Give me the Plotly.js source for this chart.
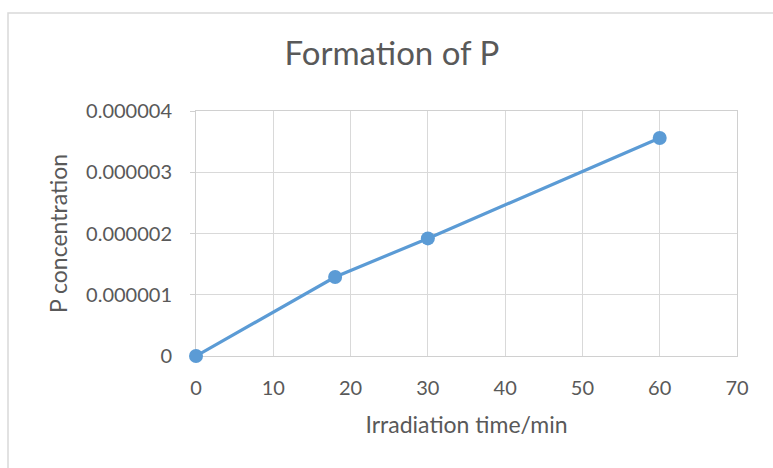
<!DOCTYPE html>
<html><head><meta charset="utf-8">
<script src="https://cdn.plot.ly/plotly-3.0.1.min.js"></script>
<style>html,body{margin:0;padding:0;background:#fff;}#chart{width:773px;height:468px;}</style>
</head><body><div id="chart"></div>
<script>
const timeMin = [0, 18, 30, 60];
const pConc = [0, 1.29e-6, 1.92e-6, 3.56e-6];
const xTicks = [0, 10, 20, 30, 40, 50, 60, 70];
const yTickVals = [0, 1e-6, 2e-6, 3e-6, 4e-6];
const yTickText = ['0', '0.000001', '0.000002', '0.000003', '0.000004'];

const txt = '#595959';
const fontFam = 'Lato, "Open Sans", sans-serif';
Plotly.newPlot('chart', [{
  x: timeMin, y: pConc, type: 'scatter', mode: 'lines+markers',
  line: {color: '#5B9BD5', width: 3.2},
  marker: {color: '#5B9BD5', size: 14},
  cliponaxis: false, showlegend: false
}], {
  width: 773, height: 468,
  margin: {l: 196, r: 36, t: 111, b: 112},
  paper_bgcolor: '#fff', plot_bgcolor: '#fff',
  font: {family: fontFam, color: txt},
  title: {text: 'Formation of P', font: {size: 33, color: txt, family: fontFam}, x: 0.507, xanchor: 'center', y: 0.885, yanchor: 'middle'},
  xaxis: {
    range: [0, 70], tickvals: xTicks, ticktext: xTicks.map(String),
    showgrid: true, gridcolor: '#D9D9D9', gridwidth: 1,
    zeroline: false, showline: true, linecolor: '#D0D0D0', linewidth: 1, mirror: true,
    ticks: '', ticklabelstandoff: 14, layer: 'below traces',
    tickfont: {size: 20, color: txt},
    title: {text: 'Irradiation time/min', font: {size: 23, color: txt}, standoff: 18}
  },
  yaxis: {
    range: [0, 4e-6], tickvals: yTickVals, ticktext: yTickText,
    showgrid: true, gridcolor: '#D9D9D9', gridwidth: 1,
    zeroline: false, showline: true, linecolor: '#D0D0D0', linewidth: 1, mirror: true,
    ticks: 'outside', ticklen: 5, tickcolor: '#D0D0D0', ticklabelstandoff: 14, layer: 'below traces',
    tickfont: {size: 20, color: txt},
    title: {text: 'P concentration', font: {size: 23, color: txt}, standoff: 12}
  },
  shapes: [{
    type: 'rect', xref: 'paper', yref: 'paper',
    x0: -188/541, x1: (790-196)/541, y0: -(490-355)/245, y1: (355-12)/245,
    line: {color: '#D9D9D9', width: 1.5}, fillcolor: 'rgba(0,0,0,0)', layer: 'below'
  }]
}, {displayModeBar: false, staticPlot: true});
</script></body></html>
